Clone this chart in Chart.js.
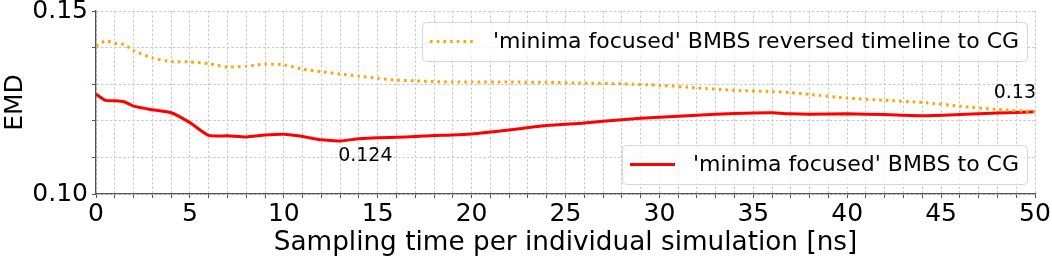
<!DOCTYPE html>
<html>
<head>
<meta charset="utf-8">
<script src="https://cdn.jsdelivr.net/npm/chart.js@4.4.0/dist/chart.umd.min.js"></script>
<style>
  html, body { margin: 0; padding: 0; background: #fff; }
  #wrap { width: 1052px; height: 259px; position: relative; }
</style>
</head>
<body>
<div id="wrap"><canvas id="emdChart"></canvas></div>
<script>
// Sampling time [ns]
const times = [0, 0.5, 1, 1.5, 2, 3, 4, 5, 6, 7, 8, 9, 10, 11, 12, 13, 14, 15, 16, 17, 18, 19, 20,
    22, 24, 26, 28, 30, 32, 34, 36, 37, 38, 40, 42, 44, 46, 48, 50];

// 'minima focused' BMBS to CG
const emdForward = [0.1273, 0.1256, 0.1255, 0.1252, 0.1240, 0.1230, 0.1222, 0.1195, 0.1160, 0.1159,
    0.1156, 0.1161, 0.1163, 0.1157, 0.1148, 0.1145, 0.1151, 0.1154, 0.1155, 0.1157, 0.1160, 0.1161,
    0.1164, 0.1175, 0.1187, 0.1194, 0.1203, 0.1210, 0.1215, 0.1220, 0.1222, 0.1219, 0.1218, 0.1219,
    0.1217, 0.1214, 0.1217, 0.1221, 0.1225];

// 'minima focused' BMBS reversed timeline to CG
const emdReversed = [0.1404, 0.1418, 0.1412, 0.1408, 0.1392, 0.1372, 0.1362, 0.1361, 0.1356, 0.1347,
    0.1349, 0.1355, 0.1353, 0.1341, 0.1334, 0.1328, 0.1322, 0.1316, 0.1311, 0.1309, 0.1307, 0.1306,
    0.1306, 0.1306, 0.1305, 0.1303, 0.1301, 0.1297, 0.1290, 0.1283, 0.1280, 0.1277, 0.1272, 0.1262,
    0.1256, 0.1250, 0.1240, 0.1231, 0.1225];

const xTickLabels = ['0', '5', '10', '15', '20', '25', '30', '35', '40', '45', '50'];
const yTickLabels = ['0.10', '0.15'];

// text annotations: [text, dataset index, point index]
const annotations = [
    ['0.124', 1, 15],
    ['0.13', 0, times.length - 1]
];

const FONT = 'DejaVu Sans';
const gridColor = '#c9c9c9';
const axisColor = '#555555';

const toPoints = (ys) => times.map((t, i) => ({ x: t, y: ys[i] }));

// Legend boxes drawn by hand (two separate boxes like the original)
const splitLegend = {
    id: 'splitLegend',
    afterDraw(chart) {
        const ctx = chart.ctx;
        const area = chart.chartArea;
        const boxes = [
            { ds: 0, top: 22, left: 422 },
            { ds: 1, top: 145, left: 622 }
        ];
        ctx.save();
        boxes.forEach(b => {
            const ds = chart.data.datasets[b.ds];
            const right = area.right - 8;
            const h = 39;
            const w = right - b.left;
            ctx.beginPath();
            ctx.roundRect(b.left + 0.5, b.top + 0.5, w, h, 4);
            ctx.fillStyle = 'rgba(255,255,255,0.8)';
            ctx.fill();
            ctx.strokeStyle = '#d6d6d6';
            ctx.lineWidth = 1;
            ctx.stroke();

            const cy = b.top + h / 2;
            ctx.beginPath();
            ctx.setLineDash(ds.borderDash || []);
            ctx.lineCap = 'butt';
            ctx.strokeStyle = ds.borderColor;
            ctx.lineWidth = ds.borderWidth;
            ctx.moveTo(b.left + 8, cy);
            ctx.lineTo(b.left + 53, cy);
            ctx.stroke();
            ctx.setLineDash([]);

            ctx.fillStyle = '#000';
            ctx.font = `22px "${FONT}"`;
            ctx.textBaseline = 'middle';
            ctx.textAlign = 'left';
            ctx.fillText(ds.label, b.left + 71, cy + 1);
        });

        // value annotations
        ctx.font = `19px "${FONT}"`;
        annotations.forEach(([text, dsIndex, idx]) => {
            const pt = chart.getDatasetMeta(dsIndex).data[idx];
            ctx.fillStyle = '#000';
            ctx.textBaseline = 'middle';
            if (dsIndex === 1) {
                ctx.textAlign = 'left';
                ctx.fillText(text, pt.x - 2, pt.y + 15);
            } else {
                ctx.textAlign = 'right';
                ctx.fillText(text, pt.x + 1, pt.y - 19);
            }
        });
        ctx.restore();
    }
};

const ctx = document.getElementById('emdChart').getContext('2d');
const emdChart = new Chart(ctx, {
    type: 'line',
    data: {
        datasets: [
            {
                label: "'minima focused' BMBS reversed timeline to CG",
                data: toPoints(emdReversed),
                borderColor: '#ffa500',
                borderWidth: 3,
                borderDash: [2.6, 4.1],
                borderCapStyle: 'butt',
                pointRadius: 0,
                tension: 0.2,
                fill: false
            },
            {
                label: "'minima focused' BMBS to CG",
                data: toPoints(emdForward),
                borderColor: '#ff0000',
                borderWidth: 3,
                pointRadius: 0,
                tension: 0.2,
                fill: false
            }
        ]
    },
    options: {
        responsive: true,
        maintainAspectRatio: false,
        animation: false,
        layout: { padding: { top: 11, right: 17, bottom: 0, left: 0 } },
        scales: {
            x: {
                type: 'linear',
                min: 0,
                max: 50,
                ticks: {
                    stepSize: 1,
                    autoSkip: false,
                    maxRotation: 0,
                    padding: 1,
                    color: '#000',
                    font: { family: FONT, size: 25 },
                    callback: (v) => (v % 5 === 0 ? xTickLabels[v / 5] : '')
                },
                grid: { color: gridColor, tickColor: axisColor, tickLength: 4 },
                border: { color: axisColor, width: 1.3, dash: [2.5, 2] },
                title: {
                    display: true,
                    text: 'Sampling time per individual simulation [ns]',
                    color: '#000',
                    font: { family: FONT, size: 26.3 },
                    padding: { top: 0, bottom: 0 }
                },
                afterFit: (scale) => {
                    scale.height = 65;
                    scale.paddingRight = 0;
                    scale.paddingLeft = 0;
                }
            },
            y: {
                min: 0.10,
                max: 0.15,
                ticks: {
                    stepSize: 0.01,
                    autoSkip: false,
                    padding: 4,
                    color: '#000',
                    font: { family: FONT, size: 25 },
                    callback: (v) => {
                        if (Math.abs(v - 0.10) < 1e-9) return yTickLabels[0];
                        if (Math.abs(v - 0.15) < 1e-9) return yTickLabels[1];
                        return '';
                    }
                },
                grid: { color: gridColor, tickColor: axisColor, tickLength: 4 },
                border: { color: axisColor, width: 1.3, dash: [2.5, 2] },
                title: {
                    display: true,
                    text: 'EMD',
                    color: '#000',
                    font: { family: FONT, size: 25 },
                    padding: { top: 0, bottom: 0 }
                },
                afterFit: (scale) => {
                    scale.width = 96;
                    scale.paddingTop = 0;
                    scale.paddingBottom = 0;
                }
            }
        },
        plugins: {
            legend: { display: false },
            tooltip: { enabled: false }
        }
    },
    plugins: [splitLegend]
});
</script>
</body>
</html>
